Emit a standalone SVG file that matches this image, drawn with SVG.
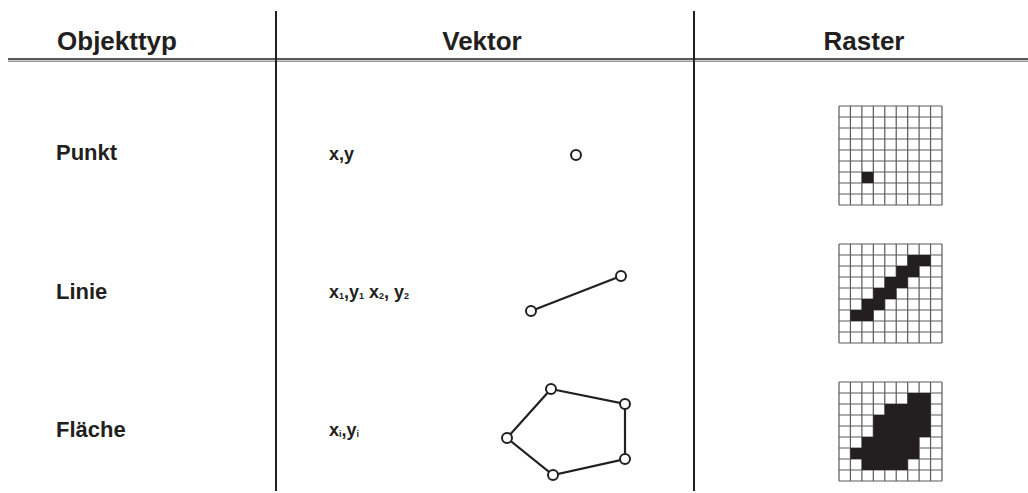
<svg xmlns="http://www.w3.org/2000/svg" xmlns:xlink="http://www.w3.org/1999/xlink" width="1028" height="493" viewBox="0 0 1028 493">
<style>
.hd{font-family:"Liberation Sans",Arial,sans-serif;font-weight:bold;font-size:26px;fill:#231f20;text-anchor:middle}
.lb{font-family:"Liberation Sans",Arial,sans-serif;font-weight:bold;font-size:22px;fill:#231f20}
.vt{font-family:"Liberation Sans",Arial,sans-serif;font-weight:bold;font-size:18px;fill:#231f20}
.sb{font-size:9px}
.rule{stroke:#231f20;stroke-width:2;fill:none}
.edge{stroke:#231f20;stroke-width:2.2;fill:none}
.vtx{fill:#fff;stroke:#231f20;stroke-width:2}
.gl{stroke:#5a5a5a;stroke-width:1.2;fill:none}
.blk{fill:#231f20}
</style>
<defs>
<g id="grid">
<rect x="0" y="0" width="103" height="99" fill="#fff"/>
<path class="gl" d="M0,0H103M0,11H103M0,22H103M0,33H103M0,44H103M0,55H103M0,66H103M0,77H103M0,88H103M0,99H103M0,0V99M11.44,0V99M22.89,0V99M34.33,0V99M45.78,0V99M57.22,0V99M68.67,0V99M80.11,0V99M91.56,0V99M103,0V99"/>
</g>
</defs>
<rect width="1028" height="493" fill="#fff"/>
<g id="table">
<line x1="8" y1="59" x2="1028" y2="59" stroke="#231f20" stroke-width="1.6"/>
<line x1="8" y1="61.2" x2="1028" y2="61.2" stroke="#9a9a9a" stroke-width="1.4"/>
<line class="rule" x1="276" y1="11" x2="276" y2="491"/>
<line class="rule" x1="694" y1="11" x2="694" y2="491"/>
</g>
<g id="header">
<text class="hd" x="117" y="50">Objekttyp</text>
<text class="hd" x="482" y="50">Vektor</text>
<text class="hd" x="864" y="50">Raster</text>
</g>
<g id="row-punkt">
<text class="lb" x="56" y="160">Punkt</text>
<text class="vt" x="329" y="160">x,y</text>
<circle class="vtx" cx="576" cy="155" r="5"/>
<use xlink:href="#grid" x="839" y="106"/>
<rect class="blk" x="861.9" y="172" width="11.44" height="11"/>
</g>
<g id="row-linie">
<text class="lb" x="56" y="299">Linie</text>
<text class="vt" x="329" y="298">x<tspan class="sb" dy="1">1</tspan><tspan dy="-1">,y</tspan><tspan class="sb" dy="1">1</tspan><tspan dy="-1"> x</tspan><tspan class="sb" dy="1">2</tspan><tspan dy="-1">, y</tspan><tspan class="sb" dy="1">2</tspan></text>
<use xlink:href="#grid" x="839" y="244"/>
<path class="blk" transform="translate(839,244)" d="M68.67,11H91.56V22H80.11V33H68.67V44H57.22V55H45.78V66H34.33V77H11.44V66H22.89V55H34.33V44H45.78V33H57.22V22H68.67Z"/>
</g>
<g id="row-flaeche">
<text class="lb" x="56" y="437">Fläche</text>
<text class="vt" x="329" y="436">x<tspan class="sb" dy="1">i</tspan><tspan dy="-1">,y</tspan><tspan class="sb" dy="1">i</tspan></text>
<use xlink:href="#grid" x="839" y="382"/>
<path class="blk" transform="translate(839,382)" d="M68.67,11H91.56V55H80.11V77H68.67V88H22.89V77H11.44V66H22.89V55H34.33V33H45.78V22H68.67Z"/>
</g>
<g id="connectors">
<line class="edge" x1="531" y1="311" x2="621" y2="276"/>
<polygon class="edge" points="551,389 625,404 625,459 553,475 507,438"/>
</g>
<g id="vertices">
<circle class="vtx" cx="531" cy="311" r="5"/>
<circle class="vtx" cx="621" cy="276" r="5"/>
<circle class="vtx" cx="551" cy="389" r="5"/>
<circle class="vtx" cx="625" cy="404" r="5"/>
<circle class="vtx" cx="625" cy="459" r="5"/>
<circle class="vtx" cx="553" cy="475" r="5"/>
<circle class="vtx" cx="507" cy="438" r="5"/>
</g>
</svg>
